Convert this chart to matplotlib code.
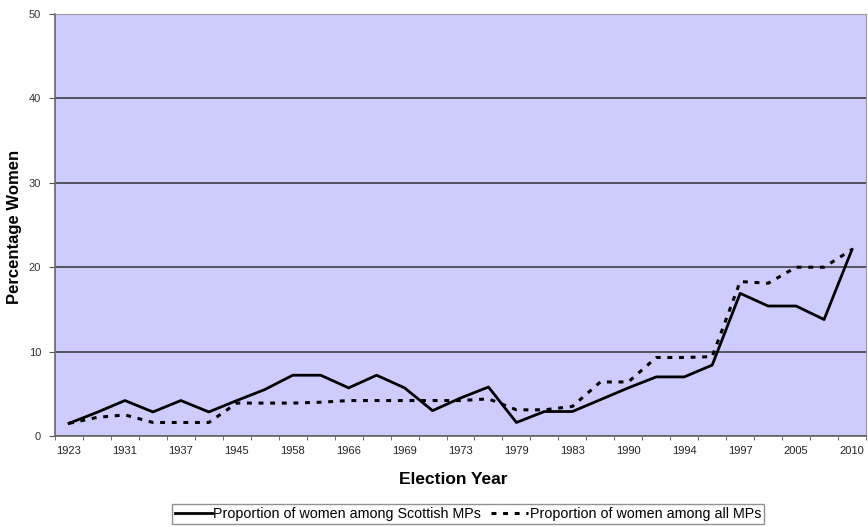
import numpy as np
import matplotlib.pyplot as plt
from matplotlib.ticker import FixedLocator

plt.rcParams['font.family'] = ['Liberation Sans', 'DejaVu Sans']

# =========================================================
# DATOS
# =========================================================
anios = ["1923", "1929", "1931", "1935", "1937", "1941", "1945", "1950", "1958", "1959",
         "1966", "1967", "1969", "1970", "1973", "1974", "1979", "1982", "1983", "1987",
         "1990", "1992", "1994", "1995", "1997", "2001", "2005", "2008", "2010"]

escocia = [1.5, 2.8, 4.2, 2.85, 4.2, 2.85, 4.2, 5.5, 7.2, 7.2,
           5.7, 7.2, 5.7, 3.0, 4.5, 5.8, 1.6, 2.9, 2.9, 4.3,
           5.7, 7.0, 7.0, 8.4, 16.9, 15.4, 15.4, 13.8, 22.1]

todos = [1.5, 2.2, 2.5, 1.6, 1.6, 1.6, 3.9, 3.9, 3.9, 4.0,
         4.2, 4.2, 4.2, 4.2, 4.2, 4.4, 3.1, 3.1, 3.5, 6.4,
         6.4, 9.3, 9.3, 9.4, 18.3, 18.1, 20.0, 20.0, 22.1]

etiquetas_y = [0, 10, 20, 30, 40, 50]

# =========================================================
# GRAFICAR
# =========================================================
fig = plt.figure(figsize=(8.68, 5.27), dpi=100)
ax = fig.add_axes([0.0634, 0.1727, 0.9343, 0.8007])
ax.set_facecolor("#CCCCFF")

x = np.arange(len(anios))
ax.plot(x, escocia, color="black", linewidth=2.0,
        label="Proportion of women among Scottish MPs")
ax.plot(x, todos, color="black", linewidth=2.2, linestyle=(0, (1.6, 2.2)),
        label="Proportion of women among all MPs")

# ejes
ax.set_xlim(-0.5, len(anios) - 0.5)
ax.set_ylim(0, 50)
ax.set_yticks(etiquetas_y)
ax.set_yticklabels([str(v) for v in etiquetas_y], fontsize=8, color="#333333")
ax.grid(True, axis="y", color="#333333", linewidth=1.1)
ax.set_axisbelow(True)

ax.xaxis.set_major_locator(FixedLocator(x[::2]))
ax.set_xticklabels(anios[::2], fontsize=8, color="#222222")
ax.xaxis.set_minor_locator(FixedLocator(np.arange(-0.5, len(anios), 1.0)))
ax.tick_params(axis="x", which="major", length=0, pad=7)
ax.tick_params(axis="x", which="minor", length=3, color="#555555", direction="out")
ax.tick_params(axis="y", length=4, color="#555555", pad=6)

for lado in ["top", "right"]:
    ax.spines[lado].set_color("#999999")
for lado in ["left", "bottom"]:
    ax.spines[lado].set_color("#666666")
    ax.spines[lado].set_linewidth(1.2)

ax.set_xlabel("Election Year", fontsize=12.5, fontweight="bold")
ax.xaxis.set_label_coords(0.491, -0.085)
ax.set_ylabel("Percentage Women", fontsize=12, fontweight="bold")
ax.yaxis.set_label_coords(-0.041, 0.496)

leg = fig.legend(loc="lower left", bbox_to_anchor=(0.198, 0.006), ncol=2,
                 fontsize=10.3, frameon=True, fancybox=False, handlelength=2.6,
                 handletextpad=0.1, columnspacing=0.7, borderpad=0.2,
                 borderaxespad=0)
leg.get_frame().set_edgecolor("#777777")
leg.get_frame().set_linewidth(1.0)

plt.savefig("out.png", dpi=100)
